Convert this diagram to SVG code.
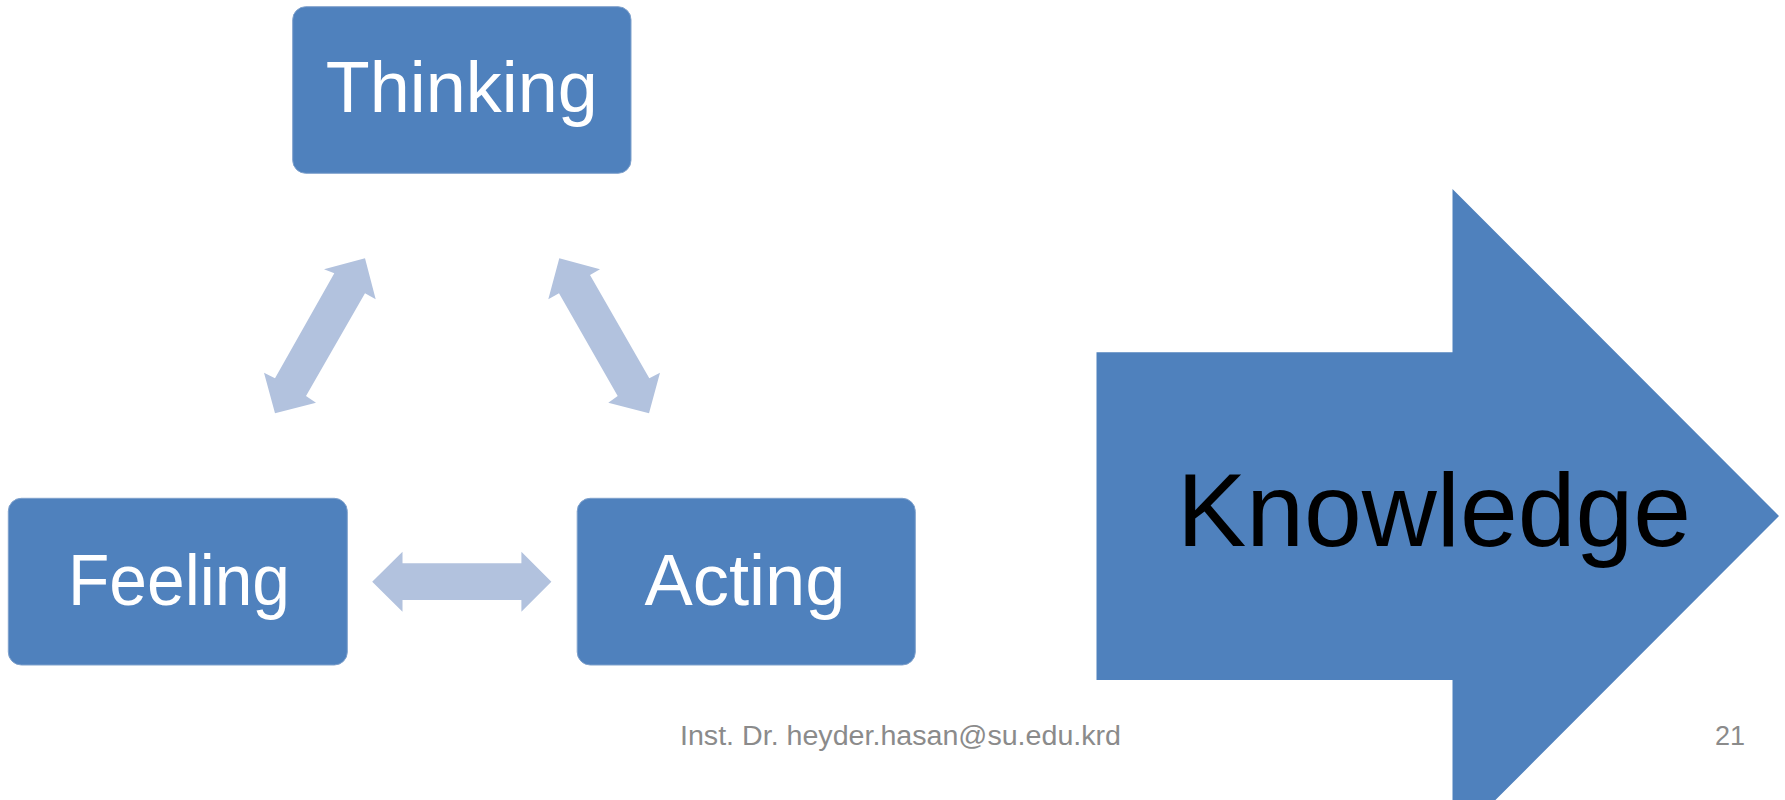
<svg xmlns="http://www.w3.org/2000/svg" width="1785" height="800" viewBox="0 0 1785 800">
<style>
.box{fill:#4F81BD;stroke:#7fa1cc;stroke-width:1}
.lbl{font-family:"Liberation Sans",Arial,sans-serif;fill:#ffffff;font-size:72px;text-anchor:middle}
.con{fill:#B2C2DE}
.big{fill:#4F81BD}
.foot{font-family:"Liberation Sans",Arial,sans-serif;fill:#8B8B8B;font-size:27px}
</style>
<rect width="1785" height="800" fill="#ffffff"/>
<g id="connectors">
<polygon class="con" points="365,258.3 375.7,299.3 365,293.3 306,396 316,402.7 275,413.3 264,372.7 275,378.3 334.3,273.3 324,269.3"/>
<polygon class="con" points="559.3,258.3 548.3,299.3 559,293.3 617.7,396 608.3,402.7 649,413.3 660,372.7 649.3,378.3 590,275 600,269.3"/>
<polygon class="con" points="372.2,581.7 402.5,551.7 402.5,563.3 521.4,563.3 521.4,551.7 551.4,581.7 521.4,611.7 521.4,600 402.5,600 402.5,611.7"/>
</g>
<g id="thinking">
<rect class="box" x="292.7" y="6.7" width="338.3" height="166.6" rx="13"/>
<text class="lbl" x="461.8" y="112.3" textLength="272" lengthAdjust="spacingAndGlyphs">Thinking</text>
</g>
<g id="feeling">
<rect class="box" x="8.3" y="498.3" width="339" height="166.7" rx="13"/>
<text class="lbl" x="179" y="605" textLength="222" lengthAdjust="spacingAndGlyphs">Feeling</text>
</g>
<g id="acting">
<rect class="box" x="577.2" y="498.3" width="338.1" height="166.7" rx="13"/>
<text class="lbl" x="745" y="605" textLength="201" lengthAdjust="spacingAndGlyphs">Acting</text>
</g>
<g id="knowledge">
<polygon class="big" points="1096.5,352.3 1452.5,352.3 1452.5,189 1779,516 1452.5,843 1452.5,680 1096.5,680"/>
<text x="1434" y="546" font-family="'Liberation Sans',Arial,sans-serif" font-size="104" fill="#000000" text-anchor="middle" textLength="514" lengthAdjust="spacingAndGlyphs">Knowledge</text>
</g>
<g id="footer">
<text class="foot" x="680" y="745" textLength="441" lengthAdjust="spacingAndGlyphs">Inst. Dr. heyder.hasan@su.edu.krd</text>
<text class="foot" x="1745" y="745" text-anchor="end">21</text>
</g>
</svg>
